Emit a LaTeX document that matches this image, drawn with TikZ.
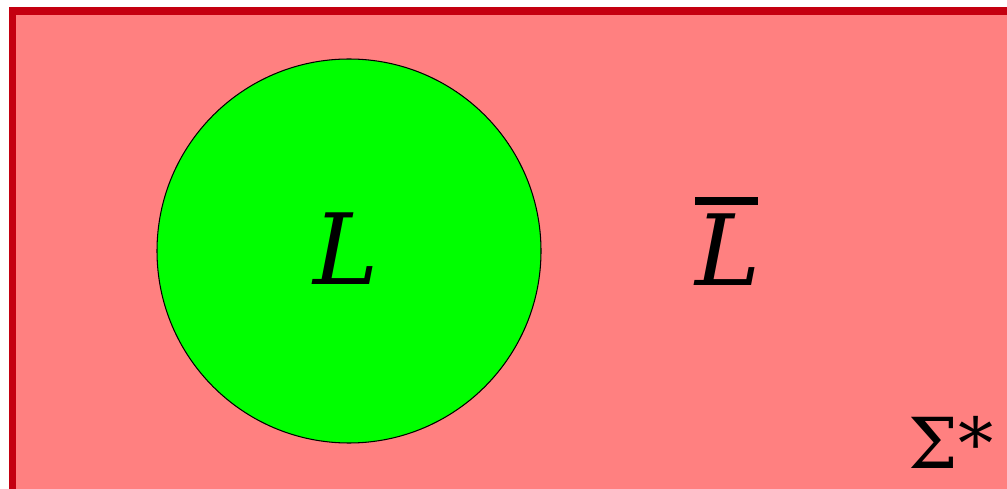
\documentclass[tikz,border=0pt]{standalone}
\usepackage{fontspec}
\usepackage{tikz}
\newfontfamily\serifit{DejaVu Serif}
\definecolor{setred}{HTML}{FF8080}
\definecolor{edgered}{HTML}{C40010}
\definecolor{setgreen}{HTML}{00FF00}

\begin{document}
\begin{tikzpicture}[x=0.02cm,y=-0.02cm,
	setlabel/.style={inner sep=0pt, font=\fontsize{56}{60}\selectfont\serifit\itshape}]
	\useasboundingbox (0,0) rectangle (1007,489);
	\clip (0,0) rectangle (1007,489);
	\draw [line width=4.2pt, draw=edgered, fill=setred] (12.5,11) rectangle (1020,493);
	\draw [line width=0.6pt, fill=setgreen] (349,251) circle (192);
	\node [setlabel] (lang) at (346,249) {L};
	\node [setlabel] (comp) at (728,250) {L};
	\draw [line width=4.2pt] (695,201) -- (758,201);
	%\node at (728,250) {$\overline{L}$};
	\node [inner sep=0pt, anchor=south west, font=\fontsize{40}{44}\selectfont\serifit] (sigma) at (908,469) {Σ*};
\end{tikzpicture}
\end{document}
